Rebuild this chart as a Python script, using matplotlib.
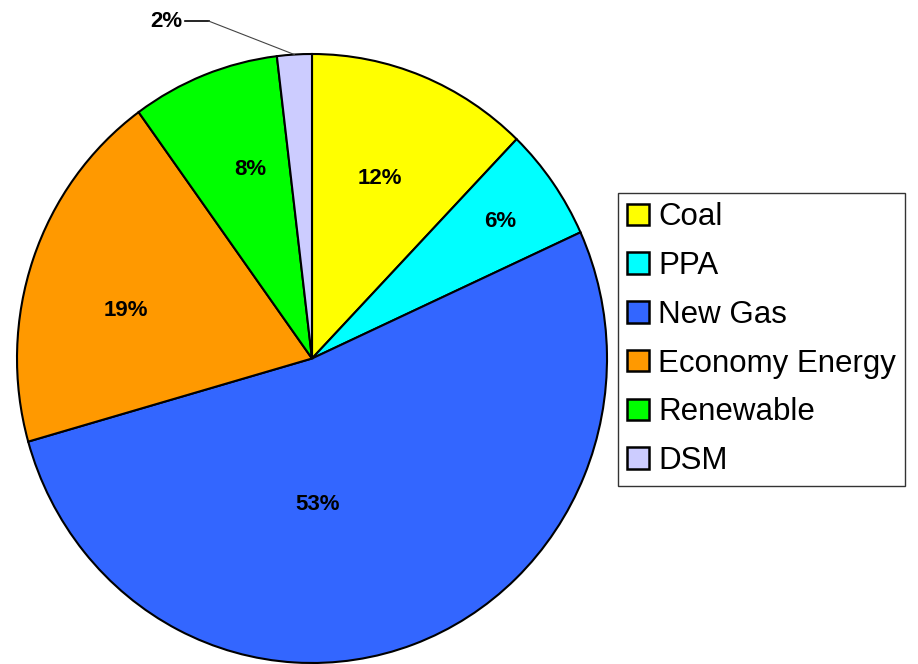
import matplotlib
matplotlib.use("Agg")
import matplotlib.pyplot as plt
import numpy as np

plt.rcParams['font.family'] = ['Liberation Sans', 'DejaVu Sans']

# shares (labels shown rounded)
sources = ["Coal", "PPA", "New Gas", "Economy Energy", "Renewable", "DSM"]
shares = [12.2, 6.0, 52.4, 19.4, 8.1, 1.9]
colors = ["#FFFF00", "#00FFFF", "#3366FF", "#FF9900", "#00FF00", "#CCCCFF"]
pct_labels = ["12%", "6%", "53%", "19%", "8%", "2%"]

fig = plt.figure(figsize=(9.18, 6.64), dpi=100)
# the pie in the original is slightly taller than wide
ax = fig.add_axes([17/918, 1/664, 590/918, 609/664])

wedges, texts, autotexts = ax.pie(shares, colors=colors, startangle=90, counterclock=False,
                                  autopct='%.0f%%', pctdistance=0.66,
                                  wedgeprops=dict(edgecolor='black', linewidth=1.5),
                                  textprops=dict(fontsize=16, fontweight='bold'))
ax.set_aspect('auto')
ax.set_xlim(-1, 1)
ax.set_ylim(-1, 1)
ax.axis('off')

for t, s in zip(autotexts, pct_labels):
    t.set_text(s)

# label spots nudged to where the original puts them
autotexts[0].set_position((0.23, 0.59))
autotexts[1].set_position(np.array(autotexts[1].get_position()) * 0.78 / 0.66)
autotexts[2].set_position((0.02, -0.48))
autotexts[3].set_position((-0.63, 0.157))
autotexts[4].set_position((-0.21, 0.62))

# small DSM slice: label outside with a leader line
autotexts[5].set_visible(False)
w = wedges[5]
mid = np.deg2rad((w.theta1 + w.theta2) / 2)
px, py = np.cos(mid), np.sin(mid)
ax.plot([-0.43, -0.35], [1.108, 1.108], color='black', lw=1.2, clip_on=False)
ax.plot([-0.35, px], [1.108, py], color='#444444', lw=0.8, clip_on=False)
ax.text(-0.44, 1.108, "2%", ha='right', va='center', fontsize=16, fontweight='bold',
        clip_on=False)

leg = fig.legend(wedges, sources, loc='upper left', bbox_to_anchor=(618/918, 1 - 193/664),
                 fontsize=22.5, frameon=True, fancybox=False, edgecolor='black',
                 handlelength=0.68, handleheight=0.68, handletextpad=0.3,
                 labelspacing=0.60, borderpad=0.3, borderaxespad=0)
leg.get_frame().set_linewidth(1.0)
for h in leg.legend_handles:
    h.set_linewidth(1.8)

fig.savefig("out.png", dpi=100)
